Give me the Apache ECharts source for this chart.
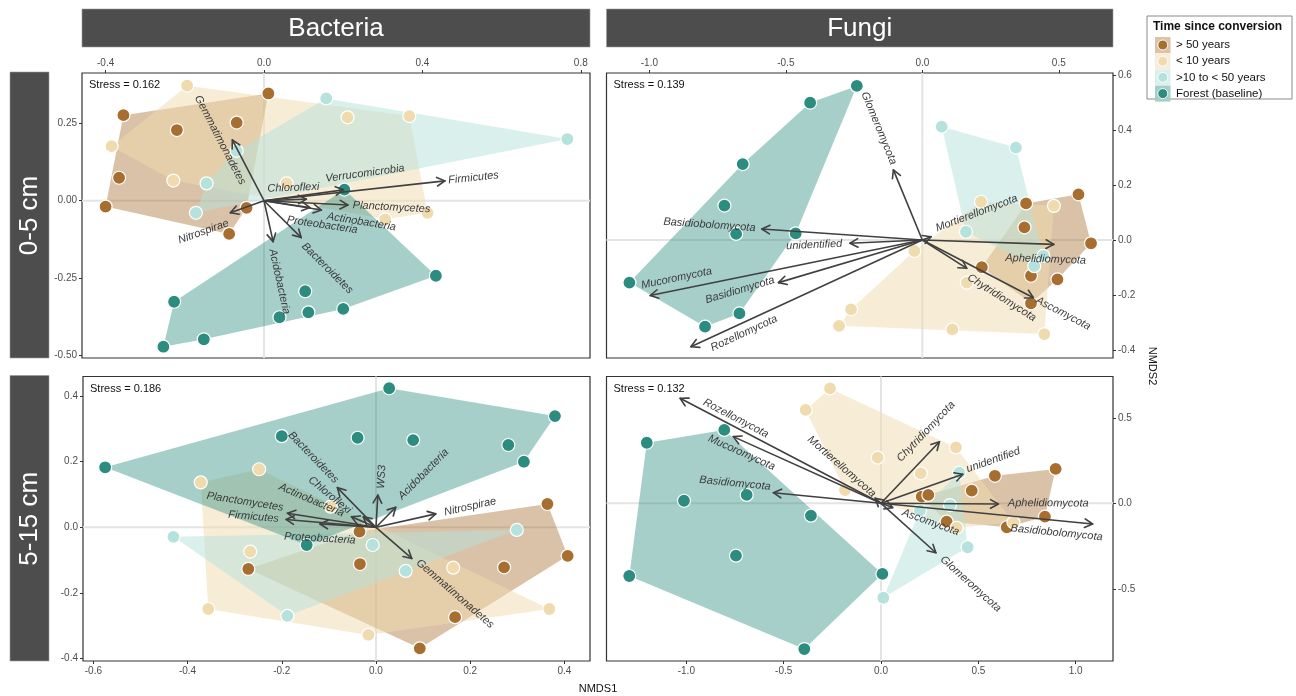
<!DOCTYPE html>
<html>
<head>
<meta charset="utf-8">
<script src="https://cdn.jsdelivr.net/npm/echarts@6/dist/echarts.min.js"></script>
<style>
  html, body { margin: 0; padding: 0; background: #ffffff; }
  #chart { width: 1296px; height: 696px; }
</style>
</head>
<body>
<div id="chart"></div>
<script>
// ---- Groups (time since conversion) ----
const groups = ['> 50 years', '< 10 years', '>10 to < 50 years', 'Forest (baseline)'];

// ---- Bacteria, 0-5 cm: site scores [NMDS1, NMDS2] ----
const bac05Old    = [[0.011,0.346],[-0.355,0.276],[-0.220,0.228],[-0.069,0.252],[-0.366,0.074],[-0.400,-0.019],[-0.044,-0.023],[-0.088,-0.107]];
const bac05Young  = [[-0.194,0.371],[-0.385,0.176],[-0.229,0.065],[0.057,0.056],[0.211,0.269],[0.367,0.273],[0.413,-0.039],[0.306,-0.060]];
const bac05Mid    = [[0.157,0.330],[0.766,0.199],[-0.069,0.161],[-0.145,0.056],[-0.172,-0.039]];
const bac05Forest = [[0.203,0.036],[0.434,-0.242],[0.104,-0.292],[0.112,-0.360],[0.200,-0.349],[0.039,-0.376],[-0.227,-0.326],[-0.152,-0.447],[-0.254,-0.471]];
const bac05Taxa   = ['Gemmatimonadetes','Nitrospirae','Firmicutes','Verrucomicrobia','Chloroflexi','Planctomycetes','Actinobacteria','Proteobacteria','Bacteroidetes','Acidobacteria'];
const bac05Load   = [[-0.080,0.196],[-0.085,-0.039],[0.457,0.064],[0.201,0.035],[0.107,0.005],[0.212,-0.014],[0.145,-0.030],[0.116,-0.022],[0.094,-0.119],[0.023,-0.132]];
const bac05LabelAt= [[-0.111,0.196],[-0.153,-0.100],[0.529,0.074],[0.255,0.088],[0.074,0.042],[0.322,-0.021],[0.246,-0.068],[0.147,-0.078],[0.160,-0.218],[0.039,-0.261]];
const bac05Stress = '0.162';
const bac05XTicks = [-0.4, 0, 0.4, 0.8];
const bac05YTicks = [-0.5, -0.25, 0, 0.25];

// ---- Fungi, 0-5 cm ----
const fun05Old    = [[0.572,0.166],[0.380,0.133],[0.374,0.046],[0.618,-0.012],[0.218,-0.099],[0.398,-0.130],[0.495,-0.143],[0.398,-0.230]];
const fun05Young  = [[0.215,0.139],[0.482,0.124],[-0.029,-0.040],[0.163,-0.155],[-0.261,-0.252],[-0.305,-0.312],[0.110,-0.325],[0.447,-0.342]];
const fun05Mid    = [[0.071,0.412],[0.343,0.336],[0.160,0.030],[0.443,-0.058],[0.410,-0.095]];
const fun05Forest = [[-0.240,0.560],[-0.411,0.499],[-0.658,0.276],[-0.725,0.125],[-0.682,0.022],[-0.464,0.024],[-1.073,-0.155],[-0.670,-0.267],[-0.796,-0.315]];
const fun05Taxa   = ['Glomeromycota','Basidiobolomycota','unidentified','Mucoromycota','Basidiomycota','Rozellomycota','Mortierellomycota','Aphelidiomycota','Chytridiomycota','Ascomycota'];
const fun05Load   = [[-0.106,0.255],[-0.588,0.040],[-0.265,-0.012],[-0.997,-0.202],[-0.527,-0.155],[-0.848,-0.388],[0.032,0.012],[0.482,-0.016],[0.163,-0.103],[0.407,-0.210]];
const fun05LabelAt= [[-0.159,0.406],[-0.780,0.055],[-0.396,-0.018],[-0.900,-0.139],[-0.668,-0.182],[-0.653,-0.339],[0.199,0.097],[0.452,-0.070],[0.291,-0.210],[0.516,-0.267]];
const fun05Stress = '0.139';
const fun05XTicks = [-1.0, -0.5, 0, 0.5];
const fun05YTicks = [-0.4, -0.2, 0, 0.2, 0.4, 0.6];

// ---- Bacteria, 5-15 cm ----
const bac515Old    = [[0.364,0.071],[0.407,-0.087],[0.272,-0.122],[-0.035,-0.013],[-0.034,-0.112],[-0.271,-0.127],[0.168,-0.274],[0.093,-0.369]];
const bac515Young  = [[-0.248,0.177],[-0.372,0.137],[-0.096,0.063],[-0.267,-0.074],[0.164,-0.123],[-0.356,-0.249],[-0.016,-0.328],[0.368,-0.249]];
const bac515Mid    = [[-0.430,-0.029],[-0.007,-0.054],[0.063,-0.133],[0.299,-0.008],[-0.188,-0.270]];
const bac515Forest = [[0.028,0.424],[0.380,0.339],[-0.200,0.278],[-0.039,0.273],[0.079,0.266],[0.281,0.251],[0.314,0.200],[-0.575,0.183],[-0.147,-0.054]];
const bac515Taxa   = ['Bacteroidetes','Chloroflexi','WS3','Acidobacteria','Nitrospirae','Planctomycetes','Firmicutes','Actinobacteria','Proteobacteria','Gemmatimonadetes'];
const bac515Load   = [[-0.082,0.121],[-0.027,0.032],[0.004,0.098],[0.042,0.061],[0.127,0.041],[-0.188,0.043],[-0.191,0.024],[-0.052,0.032],[-0.119,0.010],[0.076,-0.095]];
const bac515LabelAt= [[-0.133,0.213],[-0.098,0.098],[0.012,0.154],[0.101,0.162],[0.200,0.063],[-0.278,0.078],[-0.260,0.032],[-0.137,0.083],[-0.119,-0.034],[0.168,-0.203]];
const bac515Stress = '0.186';
const bac515XTicks = [-0.6, -0.4, -0.2, 0, 0.2, 0.4];
const bac515YTicks = [-0.4, -0.2, 0, 0.2, 0.4];

// ---- Fungi, 5-15 cm ----
const fun515Old    = [[0.897,0.201],[0.585,0.161],[0.466,0.074],[0.209,0.039],[0.243,0.049],[0.337,-0.107],[0.842,-0.078],[0.646,-0.140]];
const fun515Young  = [[-0.262,0.672],[-0.387,0.546],[-0.017,0.267],[0.385,0.327],[0.204,0.175],[-0.185,0.078],[0.389,-0.143],[0.680,-0.111]];
const fun515Mid    = [[0.402,0.179],[0.354,-0.010],[0.200,-0.043],[0.445,-0.257],[0.012,-0.552]];
const fun515Forest = [[-0.805,0.429],[-1.203,0.354],[-1.012,0.015],[-0.690,0.049],[-0.360,-0.072],[-0.745,-0.306],[-1.293,-0.425],[0.007,-0.413],[-0.394,-0.852]];
const fun515Taxa   = ['Rozellomycota','Mucoromycota','Basidiomycota','Mortierellomycota','Chytridiomycota','unidentified','Aphelidiomycota','Basidiobolomycota','Ascomycota','Glomeromycota'];
const fun515Load   = [[-1.032,0.614],[-0.759,0.390],[-0.553,0.062],[-0.030,0.030],[0.300,0.360],[0.420,0.170],[0.603,-0.004],[1.087,-0.121],[0.060,-0.025],[0.282,-0.289]];
const fun515LabelAt= [[-0.746,0.497],[-0.716,0.296],[-0.750,0.117],[-0.202,0.214],[0.231,0.419],[0.577,0.253],[0.859,0.000],[0.902,-0.172],[0.255,-0.111],[0.461,-0.472]];
const fun515Stress = '0.132';
const fun515XTicks = [-1.0, -0.5, 0, 0.5, 1.0];
const fun515YTicks = [-0.5, 0, 0.5];

// ---- Facet strip texts ----
const colStrips = ['Bacteria', 'Fungi'];
const rowStrips = ['0-5 cm', '5-15 cm'];

// ---- Styling ----
const FONT = '"Liberation Sans", Arial, Helvetica, sans-serif';
const pointColors = ['#a86e30', '#f0dbae', '#b5e2dc', '#2c8c80'];
const hullColors  = ['rgba(168,110,48,0.42)', 'rgba(240,219,174,0.5)', 'rgba(181,226,220,0.5)', 'rgba(44,140,128,0.42)'];
const keyFills    = ['#dcc3a6', '#f8eddb', '#dbf0ed', '#a6cdc8'];
const arrowColor  = '#404040';

const panels = [
  { grid: { left: 82,    top: 73,    width: 508,   height: 285 },
    xr: [-0.4596, 0.8232], yr: [-0.5074, 0.412], xPos: 'top',    yPos: 'left',  xDec: 1, yDec: 2,
    xTicks: bac05XTicks, yTicks: bac05YTicks,
    sites: [bac05Old, bac05Young, bac05Mid, bac05Forest], taxa: bac05Taxa, load: bac05Load, labelAt: bac05LabelAt, stress: bac05Stress },
  { grid: { left: 606.5, top: 73,    width: 506.5, height: 285 },
    xr: [-1.157, 0.6985], yr: [-0.429, 0.607], xPos: 'top',    yPos: 'right', xDec: 1, yDec: 1,
    xTicks: fun05XTicks, yTicks: fun05YTicks,
    sites: [fun05Old, fun05Young, fun05Mid, fun05Forest], taxa: fun05Taxa, load: fun05Load, labelAt: fun05LabelAt, stress: fun05Stress },
  { grid: { left: 83,    top: 376.5, width: 507,   height: 284.5 },
    xr: [-0.622, 0.4544], yr: [-0.4076, 0.4598], xPos: 'bottom', yPos: 'left',  xDec: 1, yDec: 1,
    xTicks: bac515XTicks, yTicks: bac515YTicks,
    sites: [bac515Old, bac515Young, bac515Mid, bac515Forest], taxa: bac515Taxa, load: bac515Load, labelAt: bac515LabelAt, stress: bac515Stress },
  { grid: { left: 606.5, top: 376.5, width: 506.5, height: 284.5 },
    xr: [-1.41, 1.1916], yr: [-0.922, 0.7415], xPos: 'bottom', yPos: 'right', xDec: 1, yDec: 1,
    xTicks: fun515XTicks, yTicks: fun515YTicks,
    sites: [fun515Old, fun515Young, fun515Mid, fun515Forest], taxa: fun515Taxa, load: fun515Load, labelAt: fun515LabelAt, stress: fun515Stress }
];

// Convex hull (monotone chain) of a group's site scores
function convexHull(pts) {
  const p = pts.slice().sort((a, b) => a[0] - b[0] || a[1] - b[1]);
  const cross = (o, a, b) => (a[0] - o[0]) * (b[1] - o[1]) - (a[1] - o[1]) * (b[0] - o[0]);
  const lower = [];
  for (const q of p) {
    while (lower.length >= 2 && cross(lower[lower.length - 2], lower[lower.length - 1], q) <= 0) lower.pop();
    lower.push(q);
  }
  const upper = [];
  for (let i = p.length - 1; i >= 0; i--) {
    const q = p[i];
    while (upper.length >= 2 && cross(upper[upper.length - 2], upper[upper.length - 1], q) <= 0) upper.pop();
    upper.push(q);
  }
  upper.pop(); lower.pop();
  return lower.concat(upper);
}

const grids = [], xAxes = [], yAxes = [], series = [], graphics = [];

panels.forEach((P, i) => {
  grids.push(Object.assign({ show: true, backgroundColor: '#fff', borderColor: '#333', borderWidth: 1.2, containLabel: false }, P.grid));

  const axisCommon = (ticks, dec) => ({
    axisLine: { show: false, onZero: false },
    splitLine: { show: false },
    axisTick: { show: true, inside: false, customValues: ticks, length: 3, lineStyle: { color: '#333', width: 1 } },
    axisLabel: { customValues: ticks, formatter: v => Number(v).toFixed(dec), color: '#4d4d4d', fontSize: 10, fontFamily: FONT, margin: 5 }
  });
  xAxes.push(Object.assign({ type: 'value', gridIndex: i, position: P.xPos, min: P.xr[0], max: P.xr[1] }, axisCommon(P.xTicks, P.xDec)));
  yAxes.push(Object.assign({ type: 'value', gridIndex: i, position: P.yPos, min: P.yr[0], max: P.yr[1] }, axisCommon(P.yTicks, P.yDec)));

  // zero reference lines
  series.push({
    type: 'custom', xAxisIndex: i, yAxisIndex: i, z: 1, silent: true,
    data: [[0, 0]],
    renderItem: (params, api) => {
      const cs = params.coordSys;
      const o = api.coord([0, 0]);
      const st = { stroke: '#e4e4e4', lineWidth: 2 };
      return { type: 'group', children: [
        { type: 'line', shape: { x1: cs.x, y1: o[1], x2: cs.x + cs.width, y2: o[1] }, style: st },
        { type: 'line', shape: { x1: o[0], y1: cs.y, x2: o[0], y2: cs.y + cs.height }, style: st }
      ] };
    }
  });

  // group hulls
  const hulls = P.sites.map(convexHull);
  series.push({
    type: 'custom', xAxisIndex: i, yAxisIndex: i, z: 2, silent: true,
    data: hulls.map((h, g) => [0, 0, g]),
    renderItem: (params, api) => {
      const g = params.dataIndex;
      return { type: 'polygon', shape: { points: hulls[g].map(p => api.coord(p)) }, style: { fill: hullColors[g] } };
    }
  });

  // site points
  P.sites.forEach((pts, g) => {
    series.push({
      type: 'scatter', name: groups[g], xAxisIndex: i, yAxisIndex: i, z: 3, silent: true,
      data: pts, symbol: 'circle', symbolSize: 13,
      itemStyle: { color: pointColors[g], borderColor: '#ffffff', borderWidth: 1.2, opacity: 1 }
    });
  });

  // taxa vectors with labels
  series.push({
    type: 'custom', xAxisIndex: i, yAxisIndex: i, z: 4, silent: true,
    data: P.load.map((v, k) => [v[0], v[1], P.labelAt[k][0], P.labelAt[k][1]]),
    renderItem: (params, api) => {
      const k = params.dataIndex;
      const o = api.coord([0, 0]);
      const t = api.coord([api.value(0), api.value(1)]);
      const l = api.coord([api.value(2), api.value(3)]);
      const dx = t[0] - o[0], dy = t[1] - o[1];
      const ang = Math.atan2(dy, dx);
      const hl = 9, sp = 0.5;
      const h1 = [t[0] - hl * Math.cos(ang - sp), t[1] - hl * Math.sin(ang - sp)];
      const h2 = [t[0] - hl * Math.cos(ang + sp), t[1] - hl * Math.sin(ang + sp)];
      let rot = Math.atan2(-dy, dx);
      if (rot > Math.PI / 2) rot -= Math.PI;
      if (rot < -Math.PI / 2) rot += Math.PI;
      const ls = { stroke: arrowColor, lineWidth: 1.6, lineCap: 'round', lineJoin: 'round', fill: null };
      return { type: 'group', children: [
        { type: 'line', shape: { x1: o[0], y1: o[1], x2: t[0], y2: t[1] }, style: ls },
        { type: 'polyline', shape: { points: [h1, t, h2] }, style: ls },
        { type: 'text', x: l[0], y: l[1], rotation: rot,
          style: { text: P.taxa[k], x: 0, y: 0, fill: '#3a3a3a', fontStyle: 'italic', fontSize: 11, fontFamily: FONT, align: 'center', verticalAlign: 'middle' } }
      ] };
    }
  });

  // stress annotation
  graphics.push({ type: 'text', x: P.grid.left + 7, y: P.grid.top + 12, z: 10,
    style: { text: 'Stress = ' + P.stress, fill: '#111', fontSize: 11, fontFamily: FONT, align: 'left', verticalAlign: 'middle' } });
});

// facet strips
const stripFill = '#4d4d4d';
colStrips.forEach((s, c) => {
  const g = panels[c].grid;
  graphics.push({ type: 'rect', shape: { x: g.left, y: 9, width: g.width, height: 38 }, style: { fill: stripFill, stroke: '#9a9a9a', lineWidth: 0.6 } });
  graphics.push({ type: 'text', x: g.left + g.width / 2, y: 28.5,
    style: { text: s, fill: '#ffffff', fontSize: 26, fontFamily: FONT, align: 'center', verticalAlign: 'middle' } });
});
rowStrips.forEach((s, r) => {
  const g = panels[r * 2].grid;
  graphics.push({ type: 'rect', shape: { x: 10, y: g.top - 1, width: 39, height: g.height + 1 }, style: { fill: stripFill, stroke: '#9a9a9a', lineWidth: 0.6 } });
  graphics.push({ type: 'text', x: 30, y: g.top + g.height / 2, rotation: Math.PI / 2,
    style: { text: s, fill: '#ffffff', fontSize: 26, fontFamily: FONT, align: 'center', verticalAlign: 'middle' } });
});

// axis titles
graphics.push({ type: 'text', x: 598, y: 689, style: { text: 'NMDS1', fill: '#111', fontSize: 11, fontFamily: FONT, align: 'center', verticalAlign: 'middle' } });
graphics.push({ type: 'text', x: 1152, y: 366, rotation: -Math.PI / 2, style: { text: 'NMDS2', fill: '#111', fontSize: 11, fontFamily: FONT, align: 'center', verticalAlign: 'middle' } });

// legend
graphics.push({ type: 'rect', shape: { x: 1147, y: 16, width: 145, height: 83 }, style: { fill: '#fff', stroke: '#8a8a8a', lineWidth: 1 } });
graphics.push({ type: 'text', x: 1153, y: 27, style: { text: 'Time since conversion', fill: '#111', fontSize: 12, fontWeight: 'bold', fontFamily: FONT, align: 'left', verticalAlign: 'middle' } });
groups.forEach((name, g) => {
  const cy = 45 + g * 16.2;
  graphics.push({ type: 'rect', shape: { x: 1155, y: cy - 8, width: 15.5, height: 16 }, style: { fill: keyFills[g] } });
  graphics.push({ type: 'circle', shape: { cx: 1162.8, cy: cy, r: 5 }, style: { fill: pointColors[g], stroke: '#fff', lineWidth: 1 } });
  graphics.push({ type: 'text', x: 1176, y: cy, style: { text: name, fill: '#111', fontSize: 11.5, fontFamily: FONT, align: 'left', verticalAlign: 'middle' } });
});

const chart = echarts.init(document.getElementById('chart'), null, { renderer: 'canvas' });
chart.setOption({
  animation: false,
  backgroundColor: '#ffffff',
  textStyle: { fontFamily: FONT },
  grid: grids,
  xAxis: xAxes,
  yAxis: yAxes,
  series: series,
  graphic: { elements: graphics }
});
</script>
</body>
</html>
